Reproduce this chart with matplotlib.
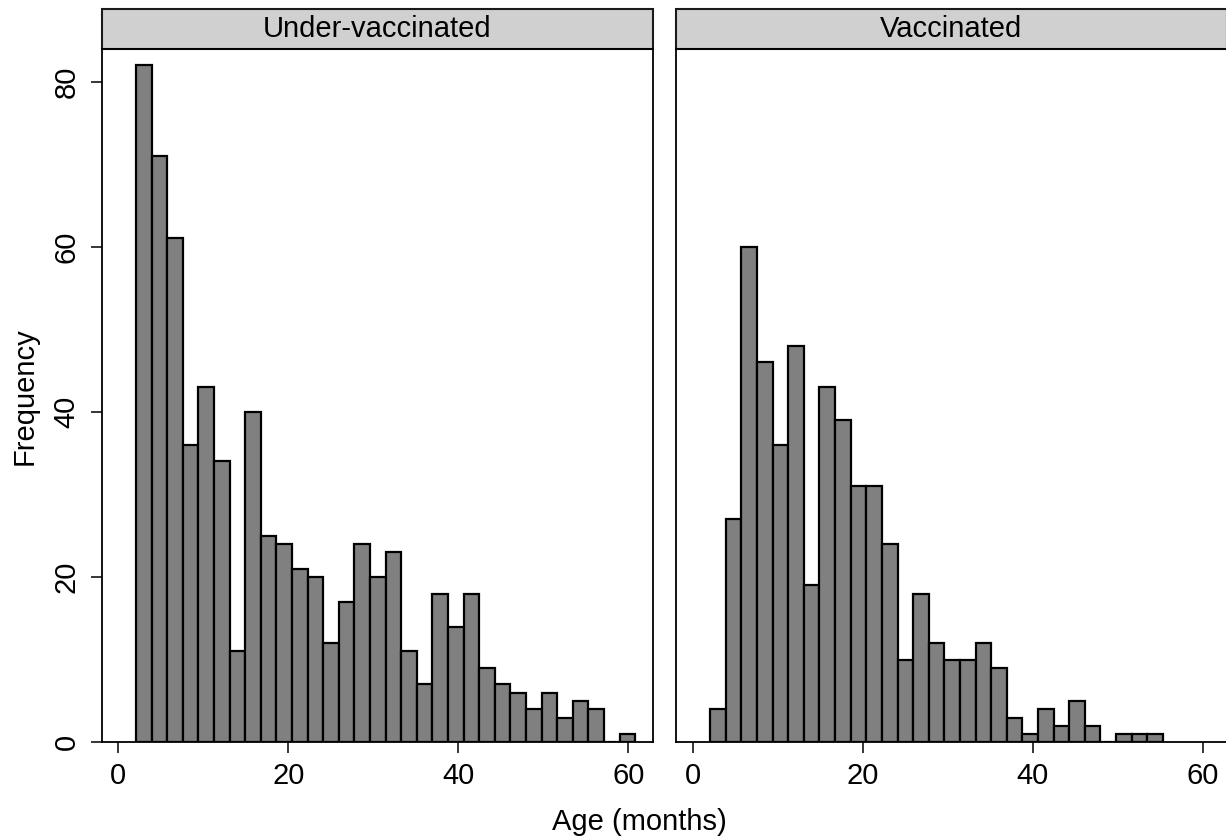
# histograma de edad por estado de vacunacion
import numpy as np
import matplotlib.pyplot as plt
from matplotlib.patches import Rectangle

plt.rcParams['font.family'] = ['Liberation Sans', 'DejaVu Sans']

paneles = ['Under-vaccinated', 'Vaccinated']
conteos_sub = [82, 71, 61, 36, 43, 34, 11, 40, 25, 24, 21, 20, 12, 17, 24, 20,
               23, 11, 7, 18, 14, 18, 9, 7, 6, 4, 6, 3, 5, 4, 0, 1]
conteos_vac = [4, 27, 60, 46, 36, 48, 19, 43, 39, 31, 31, 24, 10, 18, 12, 10,
               10, 12, 9, 3, 1, 4, 2, 5, 2, 0, 1, 1, 1]
inicio_bin = 2.08
ancho_bin = 1.835
xticks = [0, 20, 40, 60]
yticks = [0, 20, 40, 60, 80]

W, H = 1226, 838
fig = plt.figure(figsize=(W / 100, H / 100), dpi=100)

fs = 21
ax_y0 = 1 - 742.3 / H
ax_h = (742.3 - 49.3) / H
ax_w = 551 / W
lefts = [101.7 / W, 676 / W]

for i, (titulo, conteos) in enumerate(zip(paneles, [conteos_sub, conteos_vac])):
    ax = fig.add_axes([lefts[i], ax_y0, ax_w, ax_h])
    x = inicio_bin + ancho_bin * np.arange(len(conteos))
    ax.bar(x, conteos, width=ancho_bin, align='edge', color='#808080',
           edgecolor='black', linewidth=1.6)
    ax.set_xlim(-1.95, 62.85)
    ax.set_ylim(0, 83.9)
    ax.set_xticks(xticks)
    ax.tick_params(axis='x', direction='out', length=8, width=1.1,
                   labelsize=fs, pad=6)
    if i == 0:
        ax.set_yticks(yticks)
        ax.tick_params(axis='y', direction='out', length=8, width=1.1,
                       labelsize=fs, pad=7)
        for lab in ax.get_yticklabels():
            lab.set_rotation(90)
            lab.set_va('center')
    else:
        ax.set_yticks([])
    for s in ax.spines.values():
        s.set_linewidth(1.3)

    # franja del titulo
    alto = 40 / (742.3 - 49.3)
    ax.add_patch(Rectangle((0, 1), 1, alto, transform=ax.transAxes,
                           facecolor='#d0d0d0', edgecolor='#1a1a1a',
                           linewidth=1.5, clip_on=False))
    ax.text(0.5, 1 + alto / 2, titulo, transform=ax.transAxes,
            ha='center', va='center', fontsize=fs)

fig.text(25 / W, 1 - 395.7 / H, 'Frequency', rotation=90,
         ha='center', va='center', fontsize=fs)
fig.text(639 / W, 1 - 822 / H, 'Age (months)', ha='center', va='center',
         fontsize=fs)

fig.savefig('out.png', dpi=100)
